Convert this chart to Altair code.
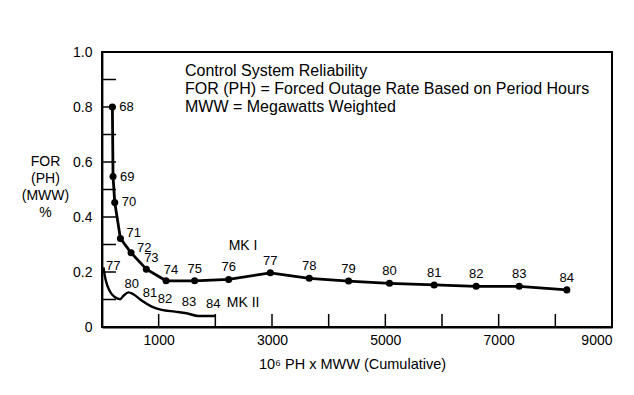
import altair as alt
import pandas as pd

FONT = "Liberation Sans"

# MK I series (cumulative 10^6 PH x MWW, FOR)
mk1_x = [183, 195, 225, 325, 513, 783, 1130, 1635, 2235, 2970, 3658, 4351, 5074, 5862, 6603, 7362, 8203]
mk1_y = [0.80, 0.547, 0.453, 0.322, 0.270, 0.210, 0.168, 0.168, 0.173, 0.197, 0.177, 0.167, 0.159, 0.153, 0.148, 0.148, 0.135]
mk1_lab = ["68", "69", "70", "71", "72", "73", "74", "75", "76", "77", "78", "79", "80", "81", "82", "83", "84"]

# MK II series (smooth curve)
mk2_x = [25, 65, 143, 231, 319, 377, 466, 554, 700, 877, 1053, 1290, 1494, 1700, 1995]
mk2_y = [0.217, 0.171, 0.128, 0.108, 0.101, 0.113, 0.126, 0.119, 0.096, 0.074, 0.062, 0.056, 0.050, 0.040, 0.040]

# MK II year labels
mk2_lab = ["77", "80", "81", "82", "83", "84"]
mk2_lab_x = [200, 524, 848, 1113, 1536, 1965]
mk2_lab_y = [0.222, 0.156, 0.122, 0.101, 0.092, 0.084]

# series names
series_lab = ["MK I", "MK II"]
series_lab_x = [2490, 2490]
series_lab_y = [0.296, 0.088]

y_ticks_minor = [0.1, 0.2, 0.3, 0.4, 0.5, 0.6, 0.7, 0.8, 0.9]
x_ticks_minor = [1000, 2000, 3000, 4000, 5000, 6000, 7000, 8000]
y_labels = [0, 0.2, 0.4, 0.6, 0.8, 1.0]
x_labels = [1000, 3000, 5000, 7000, 9000]
x_domain = [0, 9000]
y_domain = [0, 1]

header = [
    "Control System Reliability",
    "FOR (PH) = Forced Outage Rate Based on Period Hours",
    "MWW = Megawatts Weighted",
]

mk1 = pd.DataFrame({"x": mk1_x, "y": mk1_y, "lab": mk1_lab, "i": list(range(len(mk1_x)))})
mk2 = pd.DataFrame({"x": mk2_x, "y": mk2_y})
mk2l = pd.DataFrame({"x": mk2_lab_x, "y": mk2_lab_y, "lab": mk2_lab})
serl = pd.DataFrame({"x": series_lab_x, "y": series_lab_y, "lab": series_lab})

xs = alt.Scale(domain=x_domain, nice=False)
ys = alt.Scale(domain=y_domain, nice=False)

xax = alt.Axis(values=x_labels, title="10⁶ PH x MWW (Cumulative)", format="d", domain=True,
               domainColor="black", domainWidth=1.8, ticks=False,
               grid=False, labelPadding=6, titlePadding=10, labelFontSize=14, titleFontSize=14.5,
               labelFont=FONT, titleFont=FONT, titleFontWeight="normal", labelColor="black",
               titleColor="black", titleX=250)
yax = alt.Axis(values=y_labels, title=["FOR", "(PH)", "(MWW)", "%"], domain=True,
               domainColor="black", domainWidth=1.8, ticks=False,
               grid=False, labelPadding=10, labelFontSize=14, titleFontSize=14,
               labelExpr="datum.value == 0 ? '0' : format(datum.value, '.1f')",
               labelFont=FONT, titleFont=FONT, titleFontWeight="normal", labelColor="black",
               titleColor="black", titleAngle=0, titleX=-57, titleY=102, titleAlign="center",
               titleBaseline="top", titleLineHeight=17)


def X(f):
    return alt.X(f, scale=xs, axis=xax)


def Y(f):
    return alt.Y(f, scale=ys, axis=yax)


base = alt.Chart(mk1)

line1 = base.mark_line(color="black", strokeWidth=2.8).encode(x=X("x:Q"), y=Y("y:Q"))
pts1 = base.mark_circle(color="black", size=50, opacity=1).encode(x=X("x:Q"), y=Y("y:Q"))


def lab_layer(cond, dx, dy, align):
    return base.transform_filter(cond).mark_text(
        font=FONT, fontSize=13, color="black", dx=dx, dy=dy, align=align, baseline="middle"
    ).encode(x=X("x:Q"), y=Y("y:Q"), text="lab:N")


l_a = lab_layer("datum.i <= 2", 7, 0, "left")
l_b = lab_layer("datum.i == 3 || datum.i == 4", 6, -5, "left")
l_c = lab_layer("datum.i == 5 || datum.i == 6", 5, -11, "center")
l_d = lab_layer("datum.i >= 7", 0, -12, "center")

line2 = alt.Chart(mk2).mark_line(color="black", strokeWidth=2.4, interpolate="monotone").encode(
    x=X("x:Q"), y=Y("y:Q"))

t2 = alt.Chart(mk2l).mark_text(font=FONT, fontSize=13, color="black", baseline="middle").encode(
    x=X("x:Q"), y=Y("y:Q"), text="lab:N")

ts = alt.Chart(serl).mark_text(font=FONT, fontSize=14, color="black", baseline="middle").encode(
    x=X("x:Q"), y=Y("y:Q"), text="lab:N")

yt = alt.Chart(pd.DataFrame({"v": y_ticks_minor})).mark_rule(color="black", strokeWidth=1.5).encode(
    y=Y("v:Q"), x=alt.value(0), x2=alt.value(14))
xt = alt.Chart(pd.DataFrame({"v": x_ticks_minor})).mark_rule(color="black", strokeWidth=1.5).encode(
    x=X("v:Q"), y=alt.value(275), y2=alt.value(262))

frame = alt.Chart(pd.DataFrame({"x0": [x_domain[0]], "x1": [x_domain[1]], "y0": [y_domain[0]], "y1": [y_domain[1]]})).mark_rect(
    fillOpacity=0, fill="white", stroke="#000000", strokeWidth=2, strokeOpacity=1
).encode(x=X("x0:Q"), x2="x1:Q", y=Y("y0:Q"), y2="y1:Q")

hdr = alt.Chart(pd.DataFrame({"t": ["\n".join(header)]})).mark_text(
    font=FONT, fontSize=16, color="black", align="left", baseline="top", lineBreak="\n", lineHeight=18
).encode(x=alt.value(83), y=alt.value(11), text="t:N")

chart = alt.layer(frame, yt, xt, line2, line1, pts1, l_a, l_b, l_c, l_d, t2, ts, hdr).properties(
    width=510, height=275, autosize=alt.AutoSizeParams(type="none"),
    padding={"left": 94, "top": 44, "right": 14, "bottom": 54}, background="white",
).configure_view(stroke="#000000", strokeWidth=2)

chart.save("out.html", embed_options={"renderer": "svg", "actions": False})
